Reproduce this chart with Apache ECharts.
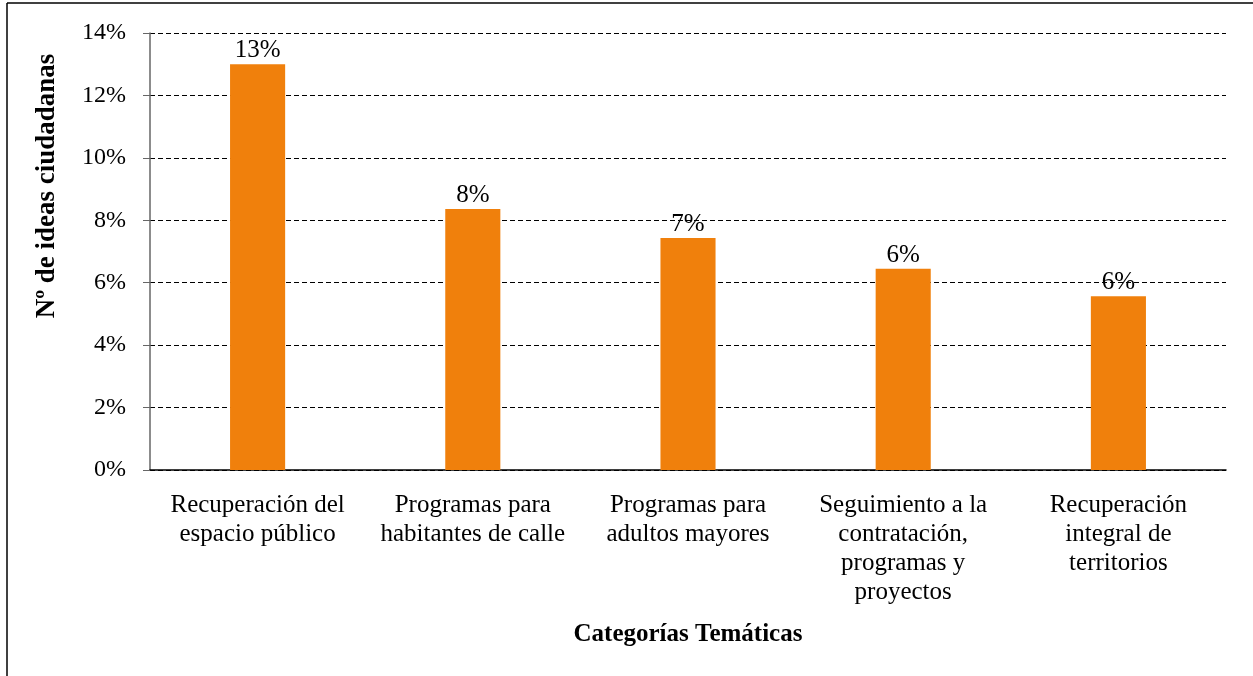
<!DOCTYPE html>
<html>
<head>
<meta charset="utf-8">
<script src="https://cdn.jsdelivr.net/npm/echarts@6/dist/echarts.min.js"></script>
<style>
  html, body { margin: 0; padding: 0; background: #fff; }
  #chart { width: 1253px; height: 676px; }
</style>
</head>
<body>
<div id="chart"></div>
<script>
// categorías y porcentajes
const categorias = [
  'Recuperación del\nespacio público',
  'Programas para\nhabitantes de calle',
  'Programas para\nadultos mayores',
  'Seguimiento a la\ncontratación,\nprogramas y\nproyectos',
  'Recuperación\nintegral de\nterritorios'
];
const porcentajes = [13.0, 8.36, 7.43, 6.45, 5.57];
const ticksY = [0, 2, 4, 6, 8, 10, 12, 14];

const fuente = '"Liberation Serif", "Times New Roman", serif';

const chart = echarts.init(document.getElementById('chart'));

const option = {
  animation: false,
  backgroundColor: '#fff',
  textStyle: { fontFamily: fuente },
  grid: { left: 150, right: 27, top: 33, bottom: 206 },
  graphic: [
    // marco del cuadro (arriba e izquierda)
    { type: 'line', shape: { x1: 7, y1: 3, x2: 1253, y2: 3 }, style: { stroke: '#000', lineWidth: 1.5 } },
    { type: 'line', shape: { x1: 7, y1: 3, x2: 7, y2: 676 }, style: { stroke: '#000', lineWidth: 1.5 } },
    {
      type: 'text', x: 47, y: 186, rotation: Math.PI / 2,
      style: {
        text: 'Nº de ideas ciudadanas', fontFamily: fuente, fontWeight: 'bold',
        fontSize: 27, fill: '#000', align: 'center', verticalAlign: 'middle'
      }
    }
  ],
  xAxis: {
    type: 'category',
    data: categorias,
    name: 'Categorías Temáticas',
    nameLocation: 'middle',
    nameGap: 152,
    nameTextStyle: { fontFamily: fuente, fontWeight: 'bold', fontSize: 25, color: '#000' },
    axisLine: { lineStyle: { color: '#000', width: 1.5 } },
    axisTick: { show: false },
    axisLabel: {
      interval: 0, color: '#000', fontSize: 25, fontFamily: fuente,
      lineHeight: 29, margin: 21
    }
  },
  yAxis: {
    type: 'value',
    min: ticksY[0],
    max: ticksY[ticksY.length - 1],
    interval: 2,
    axisLine: { show: true, lineStyle: { color: '#666', width: 1.5 } },
    axisTick: { show: true, length: 7, lineStyle: { color: '#666' } },
    axisLabel: {
      color: '#000', fontSize: 24, fontFamily: fuente, margin: 24,
      formatter: v => v + '%'
    },
    splitLine: { lineStyle: { color: '#000', type: [5, 3], width: 1 } }
  },
  series: [{
    type: 'bar',
    data: porcentajes,
    barWidth: '25.6%',
    itemStyle: { color: '#F0800C' },
    label: {
      show: true, position: 'top', distance: 1,
      color: '#000', fontSize: 25, fontFamily: fuente,
      formatter: p => Math.round(p.value) + '%'
    }
  }]
};

chart.setOption(option);
</script>
</body>
</html>
